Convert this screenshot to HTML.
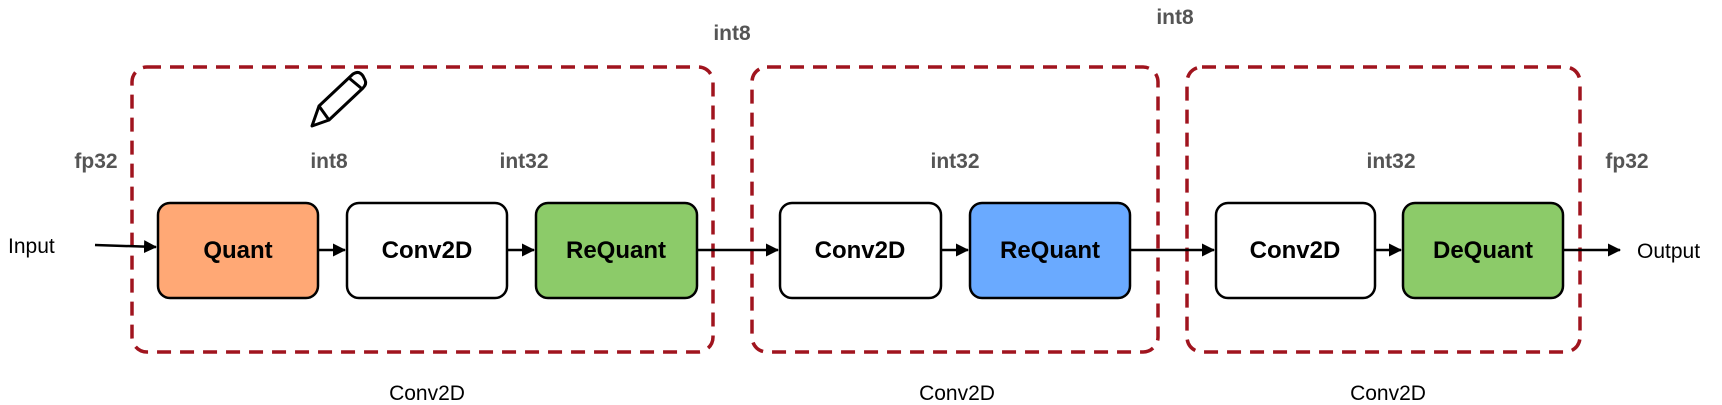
<!DOCTYPE html>
<html><head><meta charset="utf-8"><style>
body{margin:0;background:#fff}
svg{display:block}
</style></head><body>
<svg width="1722" height="405" viewBox="0 0 1722 405" xmlns="http://www.w3.org/2000/svg" font-family="Liberation Sans, sans-serif">
<defs><marker id="a" markerWidth="13" markerHeight="13" refX="12" refY="6.5" orient="auto" markerUnits="userSpaceOnUse"><path d="M0,0 L13,6.5 L0,13 z" fill="#000"/></marker></defs>
<g fill="none" stroke="#A0141E" stroke-width="3.5" stroke-dasharray="14,9">
<rect x="132" y="67" width="581" height="285" rx="15"/>
<rect x="752" y="67" width="406" height="285" rx="15"/>
<rect x="1187" y="67" width="393" height="285" rx="15"/>
</g>
<g stroke="#000" stroke-width="2.5">
<rect x="158" y="203" width="160" height="95" rx="12" fill="#FFA875"/>
<rect x="347" y="203" width="160" height="95" rx="12" fill="#fff"/>
<rect x="536" y="203" width="161" height="95" rx="12" fill="#8CCB69"/>
<rect x="780" y="203" width="161" height="95" rx="12" fill="#fff"/>
<rect x="970" y="203" width="160" height="95" rx="12" fill="#6AAAFF"/>
<rect x="1216" y="203" width="159" height="95" rx="12" fill="#fff"/>
<rect x="1403" y="203" width="160" height="95" rx="12" fill="#8CCB69"/>
</g>
<g stroke="#000" stroke-width="2.5" marker-end="url(#a)">
<line x1="95" y1="245" x2="156" y2="247"/>
<line x1="318" y1="250" x2="345" y2="250"/>
<line x1="507" y1="250" x2="534" y2="250"/>
<line x1="697" y1="250" x2="778" y2="250"/>
<line x1="941" y1="250" x2="968" y2="250"/>
<line x1="1130" y1="250" x2="1214" y2="250"/>
<line x1="1375" y1="250" x2="1401" y2="250"/>
<line x1="1563" y1="250" x2="1620" y2="250"/>
</g>
<g font-weight="bold" font-size="24" text-anchor="middle" fill="#000">
<text x="238" y="258">Quant</text>
<text x="427" y="258">Conv2D</text>
<text x="616" y="258">ReQuant</text>
<text x="860" y="258">Conv2D</text>
<text x="1050" y="258">ReQuant</text>
<text x="1295" y="258">Conv2D</text>
<text x="1483" y="258">DeQuant</text>
</g>
<g font-weight="bold" font-size="21" text-anchor="middle" fill="#555">
<text x="732" y="40">int8</text>
<text x="1175" y="24">int8</text>
<text x="96" y="168">fp32</text>
<text x="329" y="168">int8</text>
<text x="524" y="168">int32</text>
<text x="955" y="168">int32</text>
<text x="1391" y="168">int32</text>
<text x="1627" y="168">fp32</text>
</g>
<g font-size="21" fill="#000">
<text x="8" y="253">Input</text>
<text x="1637" y="258">Output</text>
<g text-anchor="middle"><text x="427" y="400">Conv2D</text><text x="957" y="400">Conv2D</text><text x="1388" y="400">Conv2D</text></g>
</g>
<g transform="translate(309,70)" stroke="#000" stroke-width="3" fill="#fff" stroke-linejoin="round">
<path d="M3,56 L10,36 L44,4 Q50,0 54,6 L56,10 Q58,14 54,18 L20,50 Z"/>
<path d="M40,8 L52,18" />
<path d="M10,36 L20,50" />
</g>
</svg>
</body></html>
